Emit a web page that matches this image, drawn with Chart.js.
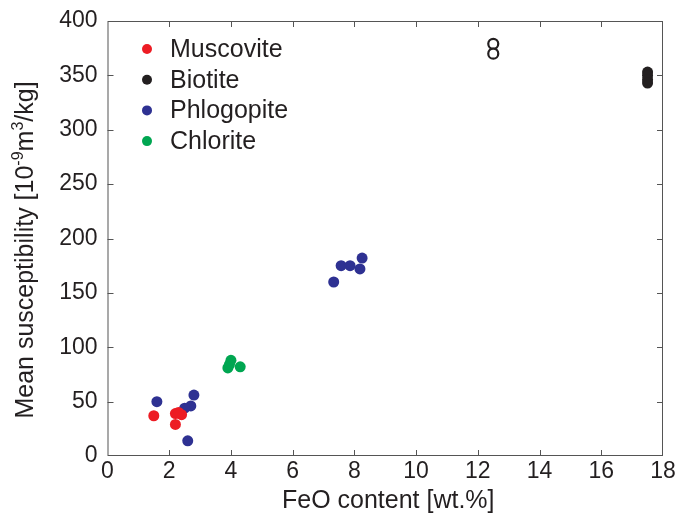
<!DOCTYPE html>
<html>
<head>
<meta charset="utf-8">
<script src="https://cdn.jsdelivr.net/npm/chart.js@4/dist/chart.umd.min.js"></script>
<style>
  html, body { margin: 0; padding: 0; background: #fff; }
  #wrap { width: 677px; height: 515px; }
</style>
</head>
<body>
<div id="wrap"><canvas id="c" width="677" height="515"></canvas></div>
<script>
// FeO content [wt.%] and mean susceptibility [10^-9 m^3/kg] per mineral group
const muscoviteFeO = [1.5, 2.2, 2.4, 2.2, 2.3];
const muscoviteChi = [37, 39, 38, 29, 40];

const biotiteFeO = [12.5, 12.5, 17.5, 17.5, 17.5, 17.5];
const biotiteChi = [379, 370, 353, 350, 346, 343];
const biotiteHollow = [true, true, false, false, false, false];

const phlogopiteFeO = [1.6, 2.8, 2.7, 2.5, 2.6, 8.25, 7.57, 7.86, 8.18, 7.33];
const phlogopiteChi = [50, 56, 46, 44, 14, 182, 175, 175, 172, 160];

const chloriteFeO = [4.0, 3.9, 3.95, 4.3];
const chloriteChi = [88, 81, 84, 82];

const xTicks = [0, 2, 4, 6, 8, 10, 12, 14, 16, 18];
const yTicks = [0, 50, 100, 150, 200, 250, 300, 350, 400];

const xTitle = 'FeO content [wt.%]';
// y title pieces: [text, isSuperscript]
const yTitleParts = [['Mean susceptibility [10', false], ['-9', true], ['m', false], ['3', true], ['/kg]', false]];

const INK = '#231f20';
const FONT = "'Liberation Sans', Arial, sans-serif";

function pts(xs, ys) { return xs.map((x, i) => ({ x: x, y: ys[i] })); }

const datasets = [
  { label: 'Muscovite', data: pts(muscoviteFeO, muscoviteChi), color: '#ed1c24', order: 0 },
  { label: 'Biotite', data: pts(biotiteFeO, biotiteChi), color: INK, order: 1 },
  { label: 'Phlogopite', data: pts(phlogopiteFeO, phlogopiteChi), color: '#2e3192', order: 2 },
  { label: 'Chlorite', data: pts(chloriteFeO, chloriteChi), color: '#00a651', order: 3 }
].map(d => {
  const isBio = d.label === 'Biotite';
  return {
    label: d.label,
    data: d.data,
    order: d.order,
    pointRadius: isBio ? biotiteHollow.map(h => h ? 5 : 5.5) : 5.5,
    pointHoverRadius: 5.5,
    pointBackgroundColor: isBio ? biotiteHollow.map(h => h ? '#ffffff' : d.color) : d.color,
    pointBorderColor: d.color,
    pointBorderWidth: isBio ? biotiteHollow.map(h => h ? 2.2 : 0) : 0,
    legendColor: d.color
  };
});

// Box frame with inward tick marks, axis titles and an inset legend
const frameAndLegend = {
  id: 'frameAndLegend',
  afterDatasetsDraw(chart) {
    const { ctx, chartArea: a, scales } = chart;
    ctx.save();
    ctx.strokeStyle = '#555';
    ctx.lineWidth = 1;
    ctx.strokeRect(a.left + 0.5, a.top + 0.5, a.right - a.left - 1, a.bottom - a.top - 1);
    const tl = 6;
    ctx.beginPath();
    xTicks.forEach(v => {
      if (v === xTicks[0] || v === xTicks[xTicks.length - 1]) return;
      const px = Math.round(scales.x.getPixelForValue(v)) + 0.5;
      ctx.moveTo(px, a.bottom); ctx.lineTo(px, a.bottom - tl);
      ctx.moveTo(px, a.top); ctx.lineTo(px, a.top + tl);
    });
    yTicks.forEach(v => {
      if (v === yTicks[0] || v === yTicks[yTicks.length - 1]) return;
      const py = Math.round(scales.y.getPixelForValue(v)) + 0.5;
      ctx.moveTo(a.left, py); ctx.lineTo(a.left + tl, py);
      ctx.moveTo(a.right, py); ctx.lineTo(a.right - tl, py);
    });
    ctx.stroke();

    // x axis title
    ctx.fillStyle = INK;
    ctx.font = '25px ' + FONT;
    ctx.textAlign = 'center';
    ctx.textBaseline = 'alphabetic';
    ctx.fillText(xTitle, (a.left + a.right) / 2 + 3, 508);

    // y axis title with superscripts, rotated
    const mainFont = '25px ' + FONT, supFont = '16px ' + FONT;
    let total = 0;
    yTitleParts.forEach(([t, sup]) => { ctx.font = sup ? supFont : mainFont; total += ctx.measureText(t).width; });
    ctx.translate(33, 250);
    ctx.rotate(-Math.PI / 2);
    ctx.textAlign = 'left';
    let cx = -total / 2;
    yTitleParts.forEach(([t, sup]) => {
      ctx.font = sup ? supFont : mainFont;
      ctx.fillText(t, cx, sup ? -10 : 0);
      cx += ctx.measureText(t).width;
    });
    ctx.setTransform(1, 0, 0, 1, 0, 0);

    // legend
    const lx = a.left + 39.5, ly = a.top + 28, step = 30.7;
    ctx.font = '25px ' + FONT;
    ctx.textBaseline = 'middle';
    ctx.textAlign = 'left';
    chart.data.datasets.forEach((ds, i) => {
      const y = ly + i * step;
      ctx.fillStyle = ds.legendColor;
      ctx.beginPath();
      ctx.arc(lx, y, 5, 0, Math.PI * 2);
      ctx.fill();
      ctx.fillStyle = INK;
      ctx.fillText(ds.label, lx + 23, y + 1);
    });
    ctx.restore();
  }
};

new Chart(document.getElementById('c'), {
  type: 'scatter',
  data: { datasets: datasets },
  options: {
    responsive: false,
    animation: false,
    layout: { padding: { top: 21, right: 14, left: 0, bottom: 0 } },
    plugins: { legend: { display: false }, tooltip: { enabled: false } },
    scales: {
      x: {
        type: 'linear',
        min: xTicks[0], max: xTicks[xTicks.length - 1],
        afterBuildTicks: s => { s.ticks = xTicks.map(v => ({ value: v })); },
        afterFit: s => { s.height = 59; s.paddingLeft = 0; s.paddingRight = 0; },
        grid: { display: false, drawTicks: false },
        border: { display: false },
        ticks: { color: INK, font: { family: FONT, size: 23 }, padding: 2, maxRotation: 0 },
        title: { display: false }
      },
      y: {
        type: 'linear',
        min: yTicks[0], max: yTicks[yTicks.length - 1],
        afterBuildTicks: s => { s.ticks = yTicks.map(v => ({ value: v })); },
        afterFit: s => { s.width = 107.5; s.paddingTop = 0; s.paddingBottom = 0; },
        grid: { display: false, drawTicks: false },
        border: { display: false },
        ticks: { color: INK, font: { family: FONT, size: 23 }, padding: 10 },
        title: { display: false }
      }
    }
  },
  plugins: [frameAndLegend]
});
</script>
</body>
</html>
